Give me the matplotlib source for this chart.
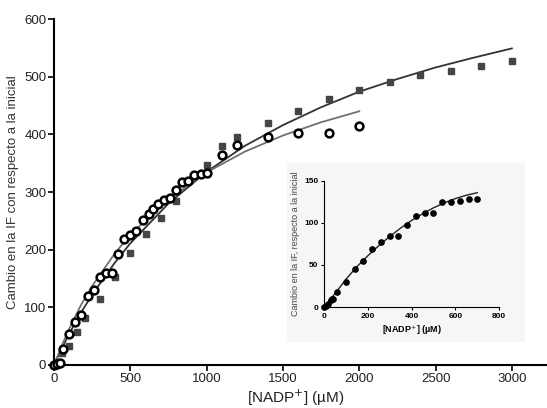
import matplotlib
matplotlib.use("Agg")
import matplotlib.pyplot as plt
from matplotlib.patches import Rectangle

plt.rcParams["font.family"] = ["Liberation Sans", "DejaVu Sans"]

# main panel: squares (first series)
sq_x = [0, 25, 50, 100, 150, 200, 300, 400, 500, 600, 700, 800, 1000, 1100,
        1200, 1400, 1600, 1800, 2000, 2200, 2400, 2600, 2800, 3000]
sq_y = [0, 5, 20, 33, 57, 82, 115, 152, 194, 227, 255, 285, 347, 380,
        395, 420, 440, 461, 477, 490, 503, 510, 519, 527]

# main panel: open circles (second series)
ci_x = [0, 20, 40, 60, 100, 140, 180, 220, 260, 300, 340, 380, 420, 460, 500,
        540, 580, 620, 650, 680, 720, 760, 800, 840, 880, 920, 960, 1000,
        1100, 1200, 1400, 1600, 1800, 2000]
ci_y = [0, 2, 4, 28, 53, 74, 87, 120, 130, 152, 160, 160, 193, 219, 226,
        233, 251, 262, 271, 279, 287, 289, 304, 317, 319, 329, 331, 333,
        365, 381, 396, 403, 403, 414]

# fitted curves
fit_sq_x = [0, 50, 100, 175, 250, 400, 500, 750, 1000, 1250, 1500, 1750, 2000,
            2250, 2500, 2750, 3000]
fit_sq_y = [0, 28, 54, 90, 122, 178, 211, 280, 335, 380, 416, 447, 474,
            496, 516, 533, 549]
fit_ci_x = [0, 50, 100, 175, 250, 400, 500, 750, 1000, 1250, 1500, 1750, 2000]
fit_ci_y = [0, 33, 63, 103, 137, 194, 226, 287, 334, 370, 398, 421, 440]

# inset
in_x = [0, 10, 20, 30, 35, 40, 60, 100, 140, 180, 220, 260, 300, 340, 380,
        420, 460, 500, 540, 580, 620, 660, 700]
in_y = [0, 1, 3, 8, 9, 10, 18, 30, 45, 55, 69, 77, 85, 85, 98,
        108, 112, 112, 125, 125, 126, 129, 128]
fit_in_x = [0, 50, 100, 150, 200, 250, 300, 350, 400, 450, 500, 550, 600, 650, 700]
fit_in_y = [0, 16, 33, 48, 61, 73, 84, 94, 103, 111, 118, 124, 129, 133, 136]

fig = plt.figure(figsize=(5.47, 4.08), dpi=100)
ax = fig.add_axes([0.0987, 0.1054, 0.9013, 0.848])

ax.plot(fit_sq_x, fit_sq_y, color="#333333", lw=1.3, zorder=2)
ax.plot(fit_ci_x, fit_ci_y, color="#707070", lw=1.3, zorder=2)
ax.plot(sq_x, sq_y, ls="none", marker="s", ms=4.0, color="#454545",
        zorder=3, clip_on=False)
ax.plot(ci_x, ci_y, ls="none", marker="o", ms=5.6, mfc="white", mec="black",
        mew=1.8, zorder=4, clip_on=False)

ax.set_xlim(0, 3230)
ax.set_ylim(0, 600)
ax.set_xticks([0, 500, 1000, 1500, 2000, 2500, 3000])
ax.set_yticks([0, 100, 200, 300, 400, 500, 600])
for s in ["top", "right"]:
    ax.spines[s].set_visible(False)
for s in ["left", "bottom"]:
    ax.spines[s].set_linewidth(1.5)
ax.tick_params(direction="out", length=4, width=1.2, labelsize=9.5,
               labelcolor="#222222", pad=1.5)
ax.set_xlabel("[NADP$^{+}$] (µM)", fontsize=11, color="#222222")
ax.xaxis.set_label_coords(0.49, -0.066)
ax.set_ylabel("Cambio en la IF con respecto a la inicial", fontsize=9.5,
              color="#333333", labelpad=4)

# light background behind the inset
fig.patches.append(Rectangle((0.5247, 0.1618), 0.435, 0.4387,
                             transform=fig.transFigure, facecolor="#f6f6f6",
                             edgecolor="none", zorder=5))

ins = fig.add_axes([0.5925, 0.2475, 0.32, 0.309], zorder=6)
ins.patch.set_alpha(0)
ins.plot(fit_in_x, fit_in_y, color="#222222", lw=1.0)
ins.plot(in_x, in_y, ls="none", marker="o", ms=3.8, color="black",
         clip_on=False)
ins.set_xlim(0, 800)
ins.set_ylim(0, 150)
ins.set_xticks([0, 200, 400, 600, 800])
ins.set_yticks([0, 50, 100, 150])
for s in ["top", "right"]:
    ins.spines[s].set_visible(False)
ins.tick_params(direction="out", length=2.5, width=0.8, labelsize=6, pad=1.5)
for lab in ins.get_xticklabels() + ins.get_yticklabels():
    lab.set_fontweight("bold")
ins.set_xlabel("[NADP$^{+}$] (µM)", fontsize=6.5, fontweight="bold", labelpad=3)
ins.set_ylabel("Cambio en la IF, respecto a la inicial", fontsize=6.5,
               color="#444444", labelpad=3)

fig.savefig("out.png", dpi=100)
